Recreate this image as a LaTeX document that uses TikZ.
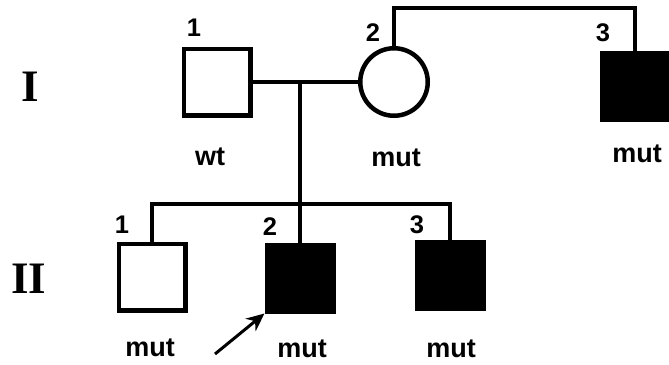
\documentclass[tikz,border=0pt]{standalone}
\usepackage{fontspec}
\newfontfamily\labfont{Liberation Sans}
\newfontfamily\genfont{Liberation Serif}
\usetikzlibrary{arrows.meta}
\tikzset{
  person/.style={draw=black, line width=4.5pt, minimum size=66.5pt, inner sep=0pt},
  male/.style={person, rectangle},
  female/.style={person, circle, minimum size=67.5pt},
  affected/.style={fill=black},
  link/.style={line width=4.5pt},
  num/.style={font=\labfont\bfseries\fontsize{25.5}{25.5}\selectfont, inner sep=0pt},
  geno/.style={font=\labfont\bfseries\fontsize{27}{27}\selectfont, inner sep=0pt},
  gen/.style={font=\genfont\bfseries\fontsize{45}{45}\selectfont, inner sep=0pt},
  proband/.style={line width=3pt, -{Stealth[length=18pt, width=16pt]}}
}
\begin{document}
\begin{tikzpicture}[x=1pt, y=-1pt]
  \useasboundingbox (0,0) rectangle (669,364);

  % generation labels
  \node[gen] (gI)  at (30,87)  {I};
  \node[gen] (gII) at (29,279) {II};

  % generation I
  \node[male]            (i1) at (217,82) {};
  \node[female]          (i2) at (394,82) {};
  \node[male, affected]  (i3) at (635,86) {};

  % generation II
  \node[male]            (ii1) at (152,277) {};
  \node[male, affected]  (ii2) at (300,278) {};
  \node[male, affected]  (ii3) at (450,275) {};

  % individual numbers
  \node[num] (n11) at (194,28)  {1};
  \node[num] (n12) at (373,33)  {2};
  \node[num] (n13) at (603,33)  {3};
  \node[num] (n21) at (122,225) {1};
  \node[num] (n22) at (270,227) {2};
  \node[num] (n23) at (417,225) {3};

  % genotypes
  \node[geno] (g11) at (210,157) {wt};
  \node[geno] (g12) at (396,158) {mut};
  \node[geno] (g13) at (637,154) {mut};
  \node[geno] (g21) at (150,348) {mut};
  \node[geno] (g22) at (302,349) {mut};
  \node[geno] (g23) at (451,349) {mut};

  % mating and sibship lines
  \coordinate (mate) at (300,82);
  \coordinate (sib)  at (300,204);
  \coordinate (top)  at (500,8);
  \draw[link] (i1.east) -- (i2.west);
  \draw[link] (mate) -- (ii2.north);
  \draw[link] (ii1.north) |- (sib) -| (ii3.north);
  \draw[link] (i2.north) |- (top) -| (i3.north);

  % proband arrow
  \coordinate (arr) at (215,354);
  \draw[proband] (arr) -- (ii2.south west);
\end{tikzpicture}
\end{document}
